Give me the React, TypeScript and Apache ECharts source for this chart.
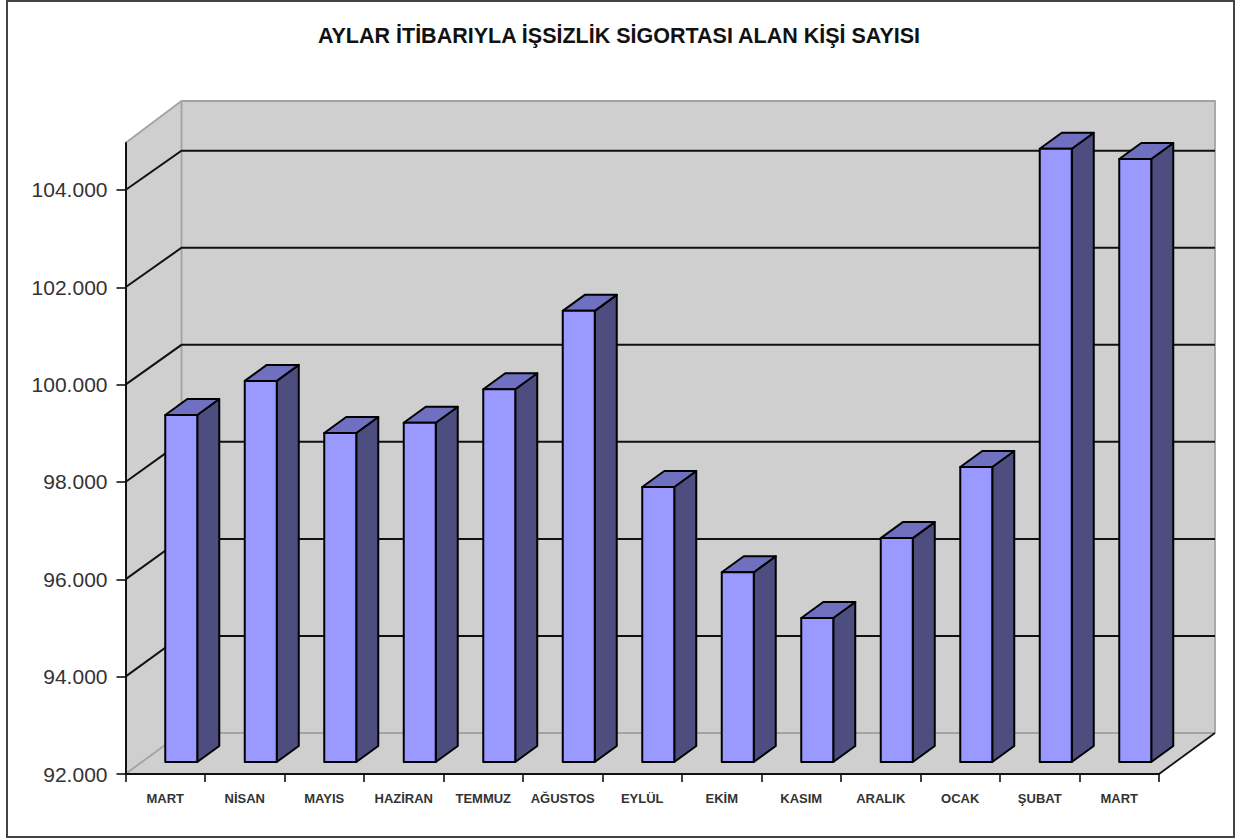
import React, { useEffect, useRef } from "react";
import * as echarts from "echarts";

const titleText = "AYLAR İTİBARIYLA İŞSİZLİK SİGORTASI ALAN KİŞİ SAYISI";
const categories = ["MART", "NİSAN", "MAYIS", "HAZİRAN", "TEMMUZ", "AĞUSTOS", "EYLÜL", "EKİM", "KASIM", "ARALIK", "OCAK", "ŞUBAT", "MART"];
const values = [99130, 99830, 98760, 98970, 99660, 101270, 97650, 95900, 94960, 96600, 98060, 104600, 104390];
const yTicks = [92000, 94000, 96000, 98000, 100000, 102000, 104000];

const WALL_DX = 56;
const WALL_DY = -41;
const WALL_TOP_DY = -42;
const WALL_SCALE = 0.997;
const BAR_SHIFT_X = 16;
const BAR_SHIFT_Y = -12;
const BAR_WIDTH = 32;
const BAR_DX = 22;
const BAR_DY = -16;

function fmt(v: number) {
  return String(v).replace(/(\d)(?=(\d{3})$)/, "$1.");
}

function renderWalls(params: any, api: any) {
  const c = params.coordSys;
  const l = c.x, r = c.x + c.width, t = c.y, b = c.y + c.height;
  const wallFill = { fill: "#cfcfcf", stroke: "none" };
  const edge = { stroke: "#a3a3a3", lineWidth: 1.8, fill: "none" };
  const backTop = t + WALL_TOP_DY;
  const backBottom = b + WALL_DY;
  const children: any[] = [
    { type: "polygon", shape: { points: [[l, b], [l, t], [l + WALL_DX, backTop], [l + WALL_DX, backBottom]] }, style: wallFill },
    { type: "polygon", shape: { points: [[l + WALL_DX, backBottom], [l + WALL_DX, backTop], [r + WALL_DX, backTop], [r + WALL_DX, backBottom]] }, style: wallFill },
    { type: "polygon", shape: { points: [[l, b], [l + WALL_DX, backBottom], [r + WALL_DX, backBottom], [r, b]] }, style: wallFill },
    { type: "polyline", shape: { points: [[l, t], [l + WALL_DX, backTop], [r + WALL_DX, backTop], [r + WALL_DX, backBottom]] }, style: edge },
    { type: "line", shape: { x1: l + WALL_DX, y1: backTop, x2: l + WALL_DX, y2: backBottom }, style: edge },
    { type: "polyline", shape: { points: [[l, b], [l + WALL_DX, backBottom], [r + WALL_DX, backBottom]] }, style: edge },
    { type: "line", shape: { x1: r, y1: b, x2: r + WALL_DX, y2: backBottom }, style: { stroke: "#111", lineWidth: 1.8 } },
  ];
  yTicks.slice(1).forEach((tick) => {
    const y = api.coord([0, tick])[1];
    const yBack = backBottom - (b - y) * WALL_SCALE;
    children.push({
      type: "polyline",
      shape: { points: [[l, y], [l + WALL_DX, yBack], [r + WALL_DX, yBack]] },
      style: { stroke: "#111", lineWidth: 2, fill: "none" },
    });
  });
  return { type: "group", children };
}

function renderBar(params: any, api: any) {
  const pTop = api.coord([api.value(0), api.value(1)]);
  const pBase = api.coord([api.value(0), yTicks[0]]);
  const x0 = pTop[0] - BAR_WIDTH / 2 + BAR_SHIFT_X;
  const x1 = x0 + BAR_WIDTH;
  const yt = pTop[1] + BAR_SHIFT_Y;
  const yb = pBase[1] + BAR_SHIFT_Y;
  const line = { stroke: "#000", lineWidth: 2, lineJoin: "round" };
  return {
    type: "group",
    children: [
      { type: "polygon", shape: { points: [[x1, yb], [x1, yt], [x1 + BAR_DX, yt + BAR_DY], [x1 + BAR_DX, yb + BAR_DY]] }, style: { fill: "#4d4d80", ...line } },
      { type: "polygon", shape: { points: [[x0, yt], [x0 + BAR_DX, yt + BAR_DY], [x1 + BAR_DX, yt + BAR_DY], [x1, yt]] }, style: { fill: "#7070c0", ...line } },
      { type: "rect", shape: { x: x0, y: yt, width: BAR_WIDTH, height: yb - yt }, style: { fill: "#9999ff", ...line } },
    ],
  };
}

export default function App() {
  const ref = useRef<HTMLDivElement>(null);
  useEffect(() => {
    const chart = echarts.init(ref.current!, null, { renderer: "svg" });
    chart.setOption({
      animation: false,
      backgroundColor: "#ffffff",
      textStyle: { fontFamily: "Liberation Sans" },
      title: {
        text: titleText,
        left: "center",
        top: 20,
        textStyle: { fontFamily: "Liberation Sans", fontSize: 21.5, fontWeight: "bold", color: "#111" },
      },
      graphic: [
        { type: "rect", z: -1, shape: { x: 7, y: 1, width: 1227, height: 836 }, style: { fill: "none", stroke: "#444", lineWidth: 2 } },
      ],
      grid: { left: 125.5, right: 79, top: 143, bottom: 66, containLabel: false },
      xAxis: {
        type: "category",
        data: categories,
        boundaryGap: true,
        axisLine: { lineStyle: { color: "#111", width: 2 } },
        axisTick: { show: true, length: 8, alignWithLabel: false, lineStyle: { color: "#111", width: 1.6 } },
        axisLabel: { interval: 0, fontFamily: "Liberation Sans", fontSize: 13, fontWeight: "bold", color: "#333", margin: 18 },
        z: 5,
      },
      yAxis: {
        type: "value",
        min: 92000,
        max: 104965,
        interval: 2000,
        splitLine: { show: false },
        axisLine: { show: true, lineStyle: { color: "#111", width: 2 } },
        axisTick: { show: true, length: 9, customValues: yTicks, lineStyle: { color: "#111", width: 1.6 } },
        axisLabel: { customValues: yTicks, fontFamily: "Liberation Sans", fontSize: 21, color: "#333", margin: 18, formatter: (v: number) => fmt(v) },
        z: 5,
      },
      series: [
        { type: "custom", name: "walls", silent: true, clip: false, z: 1, data: [[0, yTicks[0]]], encode: { x: 0, y: 1 }, renderItem: renderWalls },
        { type: "custom", name: "bars", silent: true, clip: false, z: 2, data: values.map((v, i) => [i, v]), encode: { x: 0, y: 1 }, renderItem: renderBar },
      ],
    });
    return () => chart.dispose();
  }, []);
  return <div ref={ref} style={{ position: "absolute", left: 0, top: 0, width: 1238, height: 840 }} />;
}
